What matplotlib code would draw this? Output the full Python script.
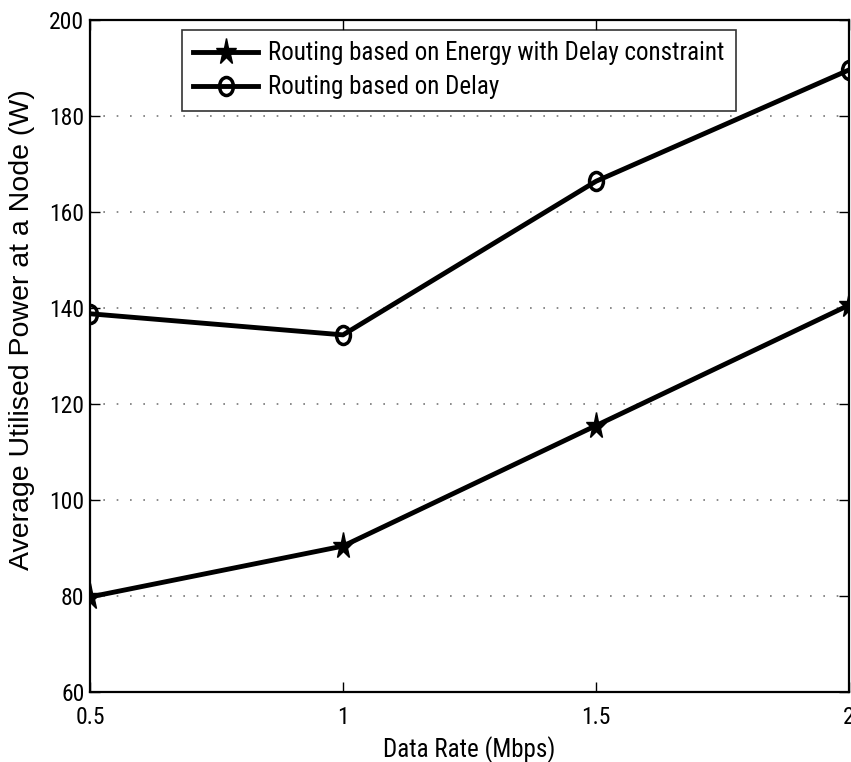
import matplotlib
matplotlib.use("Agg")
import matplotlib.pyplot as plt
from matplotlib.markers import MarkerStyle
from matplotlib.transforms import Affine2D

# narrow sans for the horizontal text, plain sans for the rotated label
plt.rcParams['font.family'] = ['Roboto Condensed', 'Archivo Narrow', 'Liberation Sans', 'DejaVu Sans']

# data rate (Mbps) and average utilised power (W) for both routing schemes
data_rate = [0.5, 1.0, 1.5, 2.0]
power_energy_delay = [79.8, 90.4, 115.5, 140.6]
power_delay = [138.8, 134.4, 166.4, 189.6]

x_ticks = [0.5, 1, 1.5, 2]
x_tick_labels = ['0.5', '1', '1.5', '2']
y_ticks = [60, 80, 100, 120, 140, 160, 180, 200]

# markers are a bit taller than wide
star = MarkerStyle('*', transform=Affine2D().scale(1, 1.35))
ring = MarkerStyle('o', fillstyle='none', transform=Affine2D().scale(1, 1.3))

fig = plt.figure(figsize=(8.51, 7.62), dpi=100)
ax = fig.add_axes([90 / 851, 70 / 762, 759 / 851, 672 / 762])

ax.plot(data_rate, power_energy_delay, color='black', linewidth=3.5, marker=star,
        markersize=15, label='Routing based on Energy with Delay constraint')
ax.plot(data_rate, power_delay, color='black', linewidth=3.5, marker=ring,
        markersize=10, markeredgewidth=2.5, label='Routing based on Delay')

ax.set_xlim(0.5, 2)
ax.set_ylim(60, 200)
ax.set_xticks(x_ticks)
ax.set_xticklabels(x_tick_labels)
ax.set_yticks(y_ticks)

# horizontal dotted grid only
ax.yaxis.grid(True, linestyle=(0, (1, 7)), color='#777777', linewidth=1.2)
ax.xaxis.grid(False)

ax.tick_params(direction='in', top=True, right=True, length=7, labelsize=17, width=1)
ax.tick_params(axis='x', pad=10)
ax.tick_params(axis='y', pad=4)
for spine in ax.spines.values():
    spine.set_linewidth(1.6)

ax.set_xlabel('Data Rate (Mbps)', fontsize=18)
ax.xaxis.set_label_coords(0.5, -0.065)
ax.set_ylabel('Average Utilised Power at a Node (W)', fontsize=20.5, family=['Liberation Sans', 'DejaVu Sans'])
ax.yaxis.set_label_coords(-0.072, 0.539)

leg = ax.legend(loc='upper left', bbox_to_anchor=(0.121, 0.985), fontsize=18,
                frameon=True, fancybox=False, edgecolor='black', handlelength=2.6,
                borderpad=0.45, labelspacing=0.4, handletextpad=0.4, borderaxespad=0)
leg.get_frame().set_linewidth(1.2)

fig.savefig('out.png', dpi=100)
